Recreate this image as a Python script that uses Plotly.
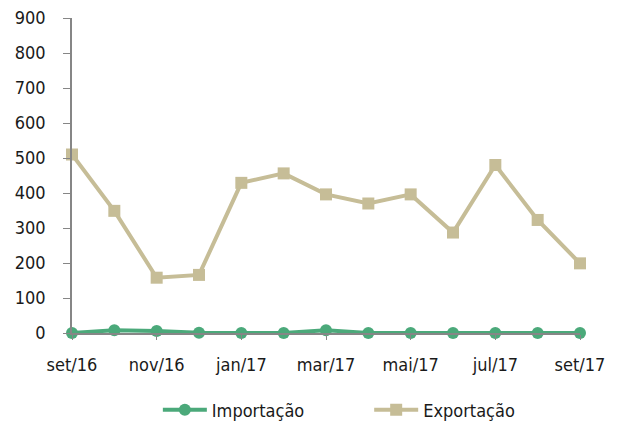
import plotly.graph_objects as go

months = ["set/16", "out/16", "nov/16", "dez/16", "jan/17", "fev/17", "mar/17",
          "abr/17", "mai/17", "jun/17", "jul/17", "ago/17", "set/17"]
importacao = [0, 8, 6, 1, 0, 0, 8, 0, 0, 0, 0, 0, 0]
exportacao = [510, 349, 158, 166, 429, 456, 396, 370, 396, 287, 480, 323, 199]
tick_labels = ["set/16", "nov/16", "jan/17", "mar/17", "mai/17", "jul/17", "set/17"]
y_ticks = [0, 100, 200, 300, 400, 500, 600, 700, 800, 900]

FONT = "DejaVu Sans Condensed, Roboto, sans-serif"

fig = go.Figure()
fig.add_trace(go.Scatter(
    x=months, y=importacao, name="Importação", mode="lines+markers",
    line=dict(color="#4BA97A", width=4),
    marker=dict(symbol="circle", size=12, color="#4BA97A"),
    cliponaxis=False, legend="legend",
))
fig.add_trace(go.Scatter(
    x=months, y=exportacao, name="Exportação", mode="lines+markers",
    line=dict(color="#C6BD97", width=4),
    marker=dict(symbol="square", size=12, color="#C6BD97"),
    cliponaxis=False, legend="legend2",
))

leg_common = dict(orientation="h", xanchor="left", yref="container", y=0.0563,
                  yanchor="middle", font=dict(size=18), itemwidth=44,
                  bgcolor="rgba(0,0,0,0)")

fig.update_layout(
    width=619, height=426,
    margin=dict(l=64, r=47, t=10, b=101),
    paper_bgcolor="white", plot_bgcolor="white",
    font=dict(family=FONT, size=18, color="#1a1a1a"),
    showlegend=True,
    legend=dict(x=0.169, **leg_common),
    legend2=dict(x=0.585, **leg_common),
    xaxis=dict(
        type="category", range=[0, 12], automargin=False,
        tickmode="array", tickvals=tick_labels, ticktext=tick_labels,
        showline=True, linecolor="#868686", linewidth=1.5,
        ticks="outside", ticklen=5, tickcolor="#868686",
        showgrid=False, zeroline=False, ticklabelstandoff=10,
        ticklabeloverflow="allow",
    ),
    yaxis=dict(
        range=[0, 900], tickvals=y_ticks, automargin=False,
        showline=True, linecolor="#868686", linewidth=1.5,
        ticks="outside", ticklen=7, tickcolor="#868686",
        showgrid=False, zeroline=False, ticklabelstandoff=14,
        ticklabeloverflow="allow",
    ),
)

fig.write_html("out.html")
